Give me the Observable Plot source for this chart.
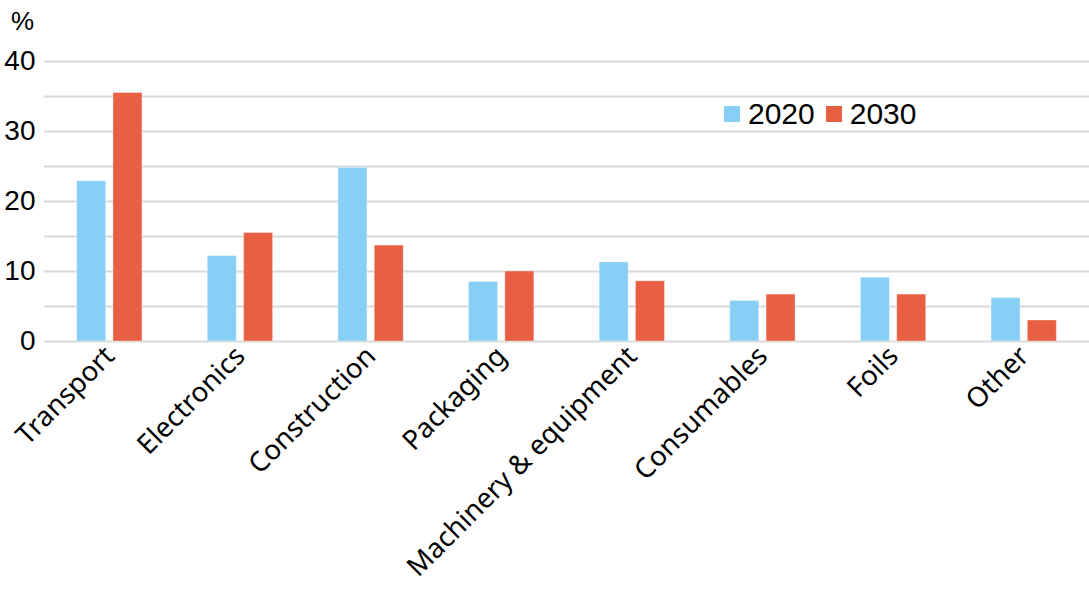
<!DOCTYPE html>
<html>
<head>
<meta charset="utf-8">
<script src="https://cdn.jsdelivr.net/npm/d3@7"></script>
<script src="https://cdn.jsdelivr.net/npm/@observablehq/plot@0.6"></script>
<style>
  html, body { margin: 0; padding: 0; background: #fff; }
  #wrap { position: relative; width: 1089px; height: 589px; }
  #unit { position: absolute; left: 11px; top: 6px; line-height: 1; font: 26px "Liberation Sans", Arial, sans-serif; color: #000; }
  #legend { position: absolute; left: 724px; top: 97px; display: flex; align-items: center; font: 30px "Liberation Sans", Arial, sans-serif; color: #000; }
  #legend .sw { display: inline-block; width: 16px; height: 16px; margin-right: 8px; }
  #legend .item { display: flex; align-items: center; margin-right: 11px; }
</style>
</head>
<body>
<div id="wrap">
  <div id="unit">%</div>
  <div id="legend"></div>
</div>
<script>
const categories = ["Transport", "Electronics", "Construction", "Packaging", "Machinery & equipment", "Consumables", "Foils", "Other"];
const years = ["2020", "2030"];
const values2020 = [22.9, 12.2, 24.8, 8.5, 11.3, 5.8, 9.1, 6.2];
const values2030 = [35.5, 15.5, 13.7, 10.0, 8.6, 6.7, 6.7, 3.0];
const yTicks = [0, 10, 20, 30, 40];
const colors = ["#87CFF5", "#E95F43"];

const data2020 = categories.map((c, i) => ({category: c, year: "2020", value: values2020[i]}));
const data2030 = categories.map((c, i) => ({category: c, year: "2030", value: values2030[i]}));

const chart = Plot.plot({
  width: 1089,
  height: 589,
  marginTop: 61,
  marginBottom: 248,
  marginLeft: 44,
  marginRight: 0,
  style: {background: "#fff"},
  x: {domain: categories, paddingInner: 0.5, paddingOuter: 0.25, round: false},
  y: {domain: [0, 40]},
  color: {domain: years, range: colors},
  marks: [
    Plot.gridY(d3.range(0, 41, 5), {stroke: "#d9d9d9", strokeOpacity: 1, strokeWidth: 2}),
    Plot.barY(data2020, {x: "category", y: "value", fill: "year", insetRight: 36.3, stroke: "#fff", strokeOpacity: 0.35, strokeWidth: 1}),
    Plot.barY(data2030, {x: "category", y: "value", fill: "year", insetLeft: 36.3, stroke: "#fff", strokeOpacity: 0.35, strokeWidth: 1}),
    Plot.axisY(yTicks, {tickSize: 0, tickPadding: 9, label: null, fontSize: 28, fontFamily: "Liberation Sans, Arial, sans-serif", fill: "#000"}),
    Plot.axisX({tickSize: 0, tickPadding: 10, tickRotate: -45, label: null, fontSize: 27.5, fontFamily: "Noto Sans, sans-serif", fill: "#000"})
  ]
});
document.getElementById("wrap").prepend(chart);

const legend = document.getElementById("legend");
years.forEach((y, i) => {
  const item = document.createElement("div");
  item.className = "item";
  const sw = document.createElement("span");
  sw.className = "sw";
  sw.style.background = colors[i];
  item.appendChild(sw);
  item.appendChild(document.createTextNode(y));
  legend.appendChild(item);
});
</script>
</body>
</html>
